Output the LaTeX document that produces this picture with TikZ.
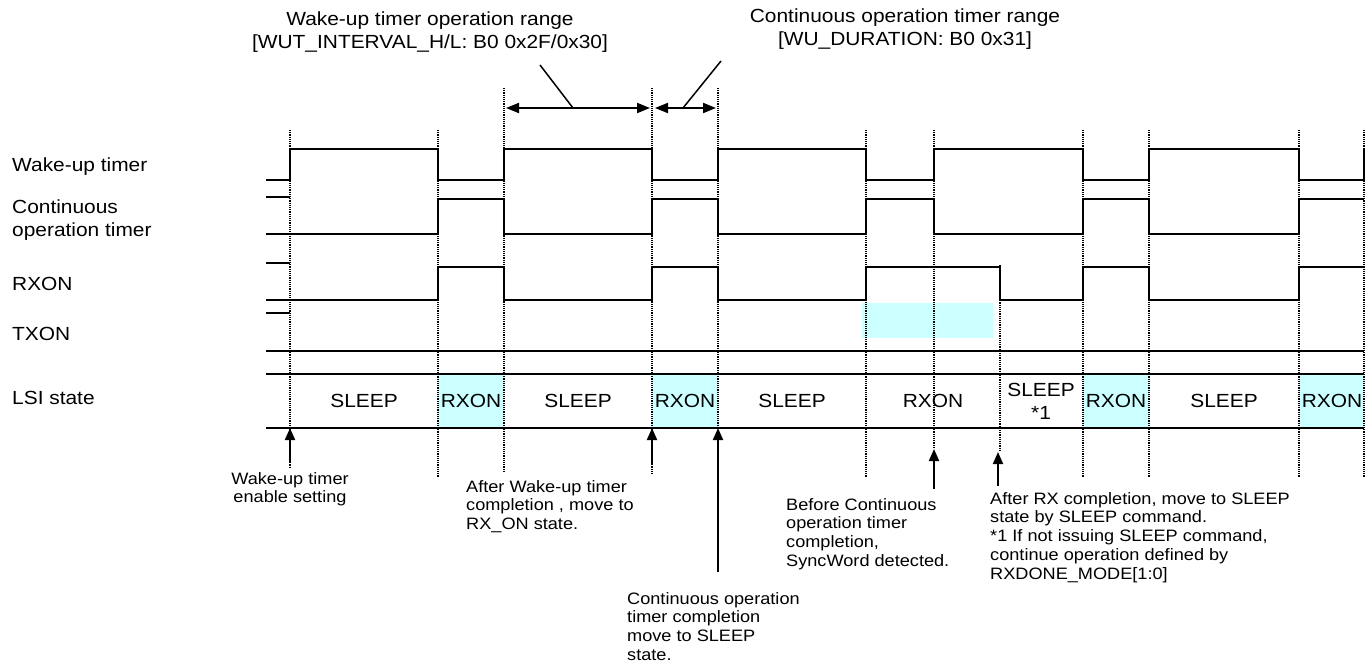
\documentclass[tikz,border=0pt]{standalone}
\usepackage{fontspec}
\setmainfont{Liberation Sans}[FakeStretch=1.1]
\usepackage{tikz}
\usetikzlibrary{arrows.meta}
\definecolor{rxcyan}{RGB}{204,255,255}

\begin{document}
\begin{tikzpicture}[x=1pt,y=-1pt,
  sig/.style={line width=2pt},
  grid/.style={densely dotted,line width=1.2pt},
  lbl/.style={anchor=west,inner sep=0pt,align=left,font=\fontsize{19}{23}\selectfont},
  st/.style={inner sep=0pt,align=center,font=\fontsize{19}{23}\selectfont},
  note/.style={inner sep=0pt,font=\fontsize{16.5}{18.8}\selectfont},
  up/.style={-{Triangle[length=12pt,width=10pt]},line width=2pt},
  spanarrow/.style={{Triangle[length=13pt,width=10pt]}-{Triangle[length=13pt,width=10pt]},line width=2pt}]
\fill[white] (0,0) rectangle (1368,666);

% cyan areas
\fill[rxcyan] (862,303) rectangle (993,338);
\foreach \a/\b in {438/504,652/718,1083/1149,1299/1364}
  \fill[rxcyan] (\a,374) rectangle (\b,428);

% dotted time marks
\foreach \x/\t/\b in {290/130/468,438/130/477,504/88/472,652/88/475,718/88/428,
  866/130/477,934/130/449,1000/265/452,1083/130/477,1149/130/477,1299/130/477,1364/130/477}
  \draw[grid] (\x,\t) -- (\x,\b);

% signal names
\node (wut) [lbl] at (12,167) {Wake-up timer};
\node (cot) [lbl] at (12,220) {Continuous\\operation timer};
\node (rxon) [lbl] at (12,284) {RXON};
\node (txon) [lbl] at (12,334) {TXON};
\node (lsi) [lbl] at (12,398) {LSI state};

% waveforms
\draw[sig] (266,180) -- (290,180) -- (290,149) -- (438,149) -- (438,180) -- (504,180) -- (504,149)
  -- (652,149) -- (652,180) -- (718,180) -- (718,149) -- (866,149) -- (866,180) -- (934,180)
  -- (934,149) -- (1083,149) -- (1083,180) -- (1149,180) -- (1149,149) -- (1299,149)
  -- (1299,180) -- (1364,180) -- (1364,149);
\draw[sig] (266,197) -- (290,197);
\draw[sig] (266,234) -- (438,234) -- (438,199) -- (504,199) -- (504,234) -- (652,234) -- (652,199)
  -- (718,199) -- (718,234) -- (866,234) -- (866,199) -- (934,199) -- (934,234) -- (1083,234)
  -- (1083,199) -- (1149,199) -- (1149,234) -- (1299,234) -- (1299,199) -- (1364,199);
\draw[sig] (266,263) -- (290,263);
\draw[sig] (266,300) -- (438,300) -- (438,267) -- (504,267) -- (504,300) -- (652,300) -- (652,267)
  -- (718,267) -- (718,300) -- (866,300) -- (866,267) -- (1000,267) -- (1000,300) -- (1083,300)
  -- (1083,267) -- (1149,267) -- (1149,300) -- (1299,300) -- (1299,267) -- (1364,267);
\draw[sig] (266,313) -- (290,313);
\draw[sig] (266,351) -- (1364,351);
\draw[sig] (266,374) -- (1364,374);
\draw[sig] (266,428) -- (1364,428);

% LSI states
\node (s1) [st] at (364,401) {SLEEP};
\node (s2) [st] at (471,401) {RXON};
\node (s3) [st] at (578,401) {SLEEP};
\node (s4) [st] at (685,401) {RXON};
\node (s5) [st] at (792,401) {SLEEP};
\node (s6) [st] at (933,401) {RXON};
\node (s7) [st] at (1041,401) {SLEEP\\*1};
\node (s8) [st] at (1116,401) {RXON};
\node (s9) [st] at (1224,401) {SLEEP};
\node (s10) [st] at (1332,401) {RXON};

% ranges
\node (wutr) [st] at (430,32) {Wake-up timer operation range\\{}[WUT\_INTERVAL\_H/L: B0 0x2F/0x30]};
\node (cotr) [st] at (905,29) {Continuous operation timer range\\{}[WU\_DURATION: B0 0x31]};
\coordinate (r1) at (506,108);
\coordinate (r2) at (650,108);
\coordinate (r3) at (655,108);
\coordinate (r4) at (716,108);
\draw[spanarrow] (r1) -- (r2);
\draw[spanarrow] (r3) -- (r4);
\coordinate (k1) at (540,65);
\coordinate (k2) at (573,108);
\coordinate (k3) at (721,61);
\coordinate (k4) at (683,108);
\draw[line width=1.5pt] (k1) -- (k2);
\draw[line width=1.5pt] (k3) -- (k4);

% notes
\node (n1) [note,align=center,anchor=north] at (290,472) {Wake-up timer\\enable setting};
\node (n2) [note,align=left,anchor=north west] at (466,480) {After Wake-up timer\\completion , move to\\RX\_ON state.};
%\node (n3) [note,align=left,anchor=north west] at (627,597) {Continuous operation\\timer completion\\move to SLEEP\\state.};
\node (n3) [note,align=left,anchor=north west] at (627,592) {Continuous operation\\timer completion\\move to SLEEP\\state.};
\node (n4) [note,align=left,anchor=north west] at (786,498) {Before Continuous\\operation timer\\completion,\\SyncWord detected.};
\node (n5) [note,align=left,anchor=north west] at (990,492) {After RX completion, move to SLEEP\\state by SLEEP command.\\*1 If not issuing SLEEP command,\\continue operation defined by\\RXDONE\_MODE[1:0]};

% arrows to the marks
\coordinate (t1) at (290,428);
\coordinate (b1) at (290,463);
\coordinate (t2) at (652,428);
\coordinate (b2) at (652,464);
\coordinate (t3) at (718,428);
\coordinate (b3) at (718,572);
\coordinate (t4) at (934,449);
\coordinate (b4) at (934,489);
\coordinate (t5) at (998,452);
\coordinate (b5) at (998,486);
\draw[up] (b1) -- (t1);
\draw[up] (b2) -- (t2);
\draw[up] (b3) -- (t3);
\draw[up] (b4) -- (t4);
\draw[up] (b5) -- (t5);
\end{tikzpicture}
\end{document}
